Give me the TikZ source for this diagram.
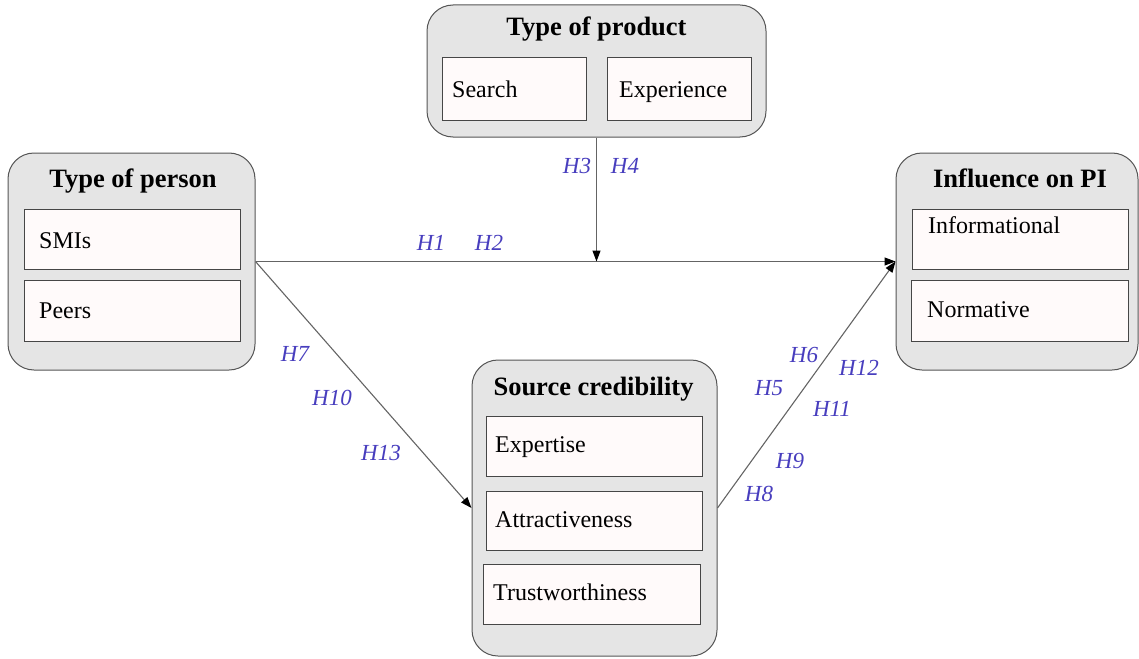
\documentclass[tikz,border=0pt]{standalone}
\usepackage{fontspec}
\setmainfont{Liberation Serif}
\usetikzlibrary{arrows.meta}
\definecolor{outerfill}{RGB}{229,229,229}
\definecolor{outerline}{RGB}{85,85,85}
\definecolor{innerfill}{RGB}{255,250,250}
\definecolor{innerline}{RGB}{70,70,70}
\definecolor{hyp}{RGB}{72,62,190}
\definecolor{conn}{RGB}{100,100,100}
\tikzset{
  outerbox/.style={draw=outerline, fill=outerfill, rounded corners=26pt, line width=1pt, inner sep=0pt},
  innerbox/.style={draw=innerline, fill=innerfill, line width=1pt, inner sep=0pt},
  titletext/.style={anchor=base, inner sep=0pt, font=\fontsize{26.5}{31}\selectfont\bfseries},
  bodytext/.style={anchor=base west, inner sep=0pt, font=\fontsize{24}{28}\selectfont},
  hyplabel/.style={inner sep=0pt, text=hyp, font=\fontsize{23}{27}\selectfont\itshape},
  connector/.style={draw=conn, line width=1.1pt},
  tip/.style={-{Triangle[length=11pt,width=8pt,fill=black,color=black]}}
}
\begin{document}
\begin{tikzpicture}[x=1pt,y=-1pt]
\useasboundingbox (0,0) rectangle (1139,658);
% outer boxes
\node[outerbox, minimum width=339pt, minimum height=132pt] (product) at (596.5,71) {};
\node[outerbox, minimum width=247pt, minimum height=217pt] (person) at (131.5,261.5) {};
\node[outerbox, minimum width=242pt, minimum height=217pt] (influence) at (1017,261.5) {};
\node[outerbox, minimum width=245pt, minimum height=296pt] (credibility) at (594.5,508) {};
% titles
\node[titletext] (productT) at (596.5,36) {Type of product};
\node[titletext] (personT) at (133,187) {Type of person};
\node[titletext] (influenceT) at (1020,187) {Influence on PI};
\node[titletext] (credibilityT) at (593.5,395) {Source credibility};
% inner boxes
\node[innerbox, minimum width=144pt, minimum height=62pt] (search) at (514,89) {};
\node[innerbox, minimum width=144pt, minimum height=62pt] (experience) at (679,89) {};
\node[innerbox, minimum width=216pt, minimum height=60pt] (smis) at (132,239) {};
\node[innerbox, minimum width=216pt, minimum height=61pt] (peers) at (132,310.5) {};
\node[innerbox, minimum width=216pt, minimum height=60pt] (informational) at (1020,239) {};
\node[innerbox, minimum width=217pt, minimum height=61pt] (normative) at (1019.5,310.5) {};
\node[innerbox, minimum width=216pt, minimum height=60pt] (expertise) at (594,446) {};
\node[innerbox, minimum width=216pt, minimum height=59pt] (attract) at (594,520.5) {};
\node[innerbox, minimum width=217pt, minimum height=60pt] (trust) at (591.5,594) {};
% inner texts
\node[bodytext] (searchT) at (452,98) {Search};
\node[bodytext] (experienceT) at (619,98) {Experience};
\node[bodytext] (smisT) at (39,248) {SMIs};
\node[bodytext] (peersT) at (39,318) {Peers};
\node[bodytext] (informationalT) at (928,233) {Informational};
\node[bodytext] (normativeT) at (927,317) {Normative};
\node[bodytext] (expertiseT) at (495,452) {Expertise};
\node[bodytext] (attractT) at (495,527) {Attractiveness};
\node[bodytext] (trustT) at (493,600) {Trustworthiness};
% connectors
\coordinate (meet) at (596.5,261.5);
\draw[connector, tip] (person.east) -- (influence.west);
\draw[connector, tip] (product.south) -- (meet);
\draw[connector, tip] (person.east) -- (credibility.west);
\draw[connector, tip] (credibility.east) -- (influence.west);
% hypothesis labels
\node[hyplabel] (h1) at (431,243) {H1};
\node[hyplabel] (h2) at (489,243) {H2};
\node[hyplabel] (h3) at (577,166) {H3};
\node[hyplabel] (h4) at (625,166) {H4};
\node[hyplabel] (h7) at (295,354) {H7};
\node[hyplabel] (h10) at (332,398) {H10};
\node[hyplabel] (h13) at (381,453) {H13};
\node[hyplabel] (h6) at (804,355) {H6};
\node[hyplabel] (h12) at (859,368) {H12};
\node[hyplabel] (h5) at (769,388) {H5};
\node[hyplabel] (h11) at (832,409) {H11};
\node[hyplabel] (h9) at (790,461) {H9};
\node[hyplabel] (h8) at (759,494) {H8};
\end{tikzpicture}
\end{document}
